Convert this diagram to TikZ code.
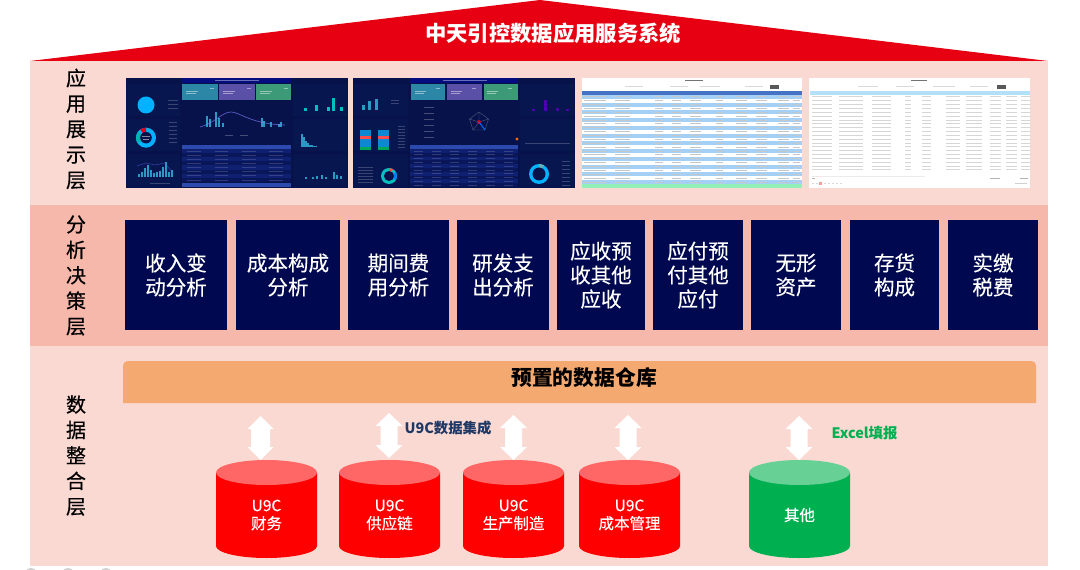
\documentclass[tikz,border=0pt]{standalone}
\usepackage{fontspec}
\setmainfont{Noto Sans CJK SC}
\newfontfamily\medf[FakeBold=0.5]{Noto Sans CJK SC}
\newfontfamily\lightmedf[FakeBold=0.25]{Noto Sans CJK SC}
\usetikzlibrary{shapes.geometric}
\definecolor{bandlight}{HTML}{FBD9D3}
\definecolor{banddark}{HTML}{F6B8AA}
\definecolor{roofred}{HTML}{E60012}
\definecolor{navybox}{HTML}{00084F}
\definecolor{barorange}{HTML}{F4A971}
\definecolor{cylred}{HTML}{FF0000}
\definecolor{cylredtop}{HTML}{FF6666}
\definecolor{cylgreen}{HTML}{00B050}
\definecolor{cylgreentop}{HTML}{66D095}
\definecolor{darkblue}{HTML}{1F3864}
\definecolor{scrbg}{HTML}{07124A}
\definecolor{scrpanel}{HTML}{081650}
\definecolor{scrbar}{HTML}{2A9AC4}
\definecolor{scrrowa}{HTML}{09175A}
\definecolor{scrrowb}{HTML}{0F2070}
\definecolor{scrhead}{HTML}{2C49AE}
\definecolor{cardteal}{HTML}{2C86A6}
\definecolor{cardpurple}{HTML}{5A50A8}
\definecolor{cardgreen}{HTML}{3C9A78}
\definecolor{tblblue}{HTML}{4472C4}
\definecolor{tblrow}{HTML}{A4D0F6}
\definecolor{tblgreen}{HTML}{92F0B8}
\definecolor{tblhead}{HTML}{B4DFF8}
\tikzset{
  layerlabel/.style={text=black, align=center, inner sep=0pt,
    font=\medf\fontsize{15}{19.1}\selectfont},
  analysis/.style={fill=navybox, draw=none, text=white, align=center, inner sep=0pt,
    font=\lightmedf\fontsize{15.4}{18}\selectfont},
  cyltext/.style={text=white, align=center, inner sep=0pt,
    font=\lightmedf\fontsize{11.6}{13.5}\selectfont},
  tagblue/.style={font=\bfseries\fontsize{10.8}{13}\selectfont, text=darkblue, inner sep=0pt},
  taggreen/.style={font=\bfseries\fontsize{10.8}{13}\selectfont, text=cylgreen, inner sep=0pt},
}
\newcommand{\anbox}[4]{\node[analysis, minimum width={(#3-#2)*0.75pt}, minimum height=110*0.75pt]
  (#1) at ({(#2+#3)/2},275) {#4};}
\newcommand{\panel}[4]{\fill[scrpanel] (#1,#2) rectangle (#3,#4);}
% name, centre x, body colour, top colour, text, text y
\newcommand{\dbcyl}[6]{%
  \fill[#3] ({#2-50.5},472.5) -- ({#2-50.5},546) arc (180:0:50.5 and 12) -- ({#2+50.5},472.5) -- cycle;
  \fill[#4] (#2,472.5) ellipse (50.5 and 12.5);
  \node[cyltext] (#1) at (#2,#6) {#5};
}
% name, centre x, y top, y bottom, half head, half shaft
\newcommand{\linkarrow}[6]{%
  \fill[white] (#2,#3) -- ({#2+#5},{#3+13}) -- ({#2+#6},{#3+13}) -- ({#2+#6},{#4-13}) -- ({#2+#5},{#4-13})
    -- (#2,#4) -- ({#2-#5},{#4-13}) -- ({#2-#6},{#4-13}) -- ({#2-#6},{#3+13}) -- ({#2-#5},{#3+13}) -- cycle;
  \coordinate (#1) at (#2,{(#3+#4)/2});
}
\newcommand{\dtable}[7]{% x0,x1,ytop,ybot,rows,cols,(unused)
  \pgfmathsetmacro{\rh}{(#4-#3)/#5}
  \foreach \r in {1,...,#5}{
    \pgfmathtruncatemacro{\ev}{mod(\r,2)}
    \ifnum\ev=0 \def\cc{scrrowa}\else\def\cc{scrrowb}\fi
    \fill[\cc] (#1,{#3+(\r-1)*\rh}) rectangle (#2,{#3+\r*\rh});
    \foreach \c in {1,...,#6}{
      \fill[white,opacity=.16] ({#1+(#2-#1)*(\c-.8)/#6},{#3+(\r-.6)*\rh}) rectangle ++({(#2-#1)*.5/#6},.8);
    }
  }
}
\newcommand{\lighttable}[7]{% x0,x1,ytop,nrows,rowh,striped colour,text colour
  \foreach \r in {1,...,#4}{
    \pgfmathtruncatemacro{\ev}{mod(\r,2)}
    \ifnum\ev=1 \fill[#6] (#1,{#3+(\r-1)*#5}) rectangle (#2,{#3+\r*#5});\fi
    \foreach \c/\w in {0.01/.10,.15/.07,.33/.04,.41/.04,.49/.05,.61/.03,.70/.05,.79/.05,.89/.05,.96/.03}{
      \fill[#7] ({#1+(#2-#1)*\c},{#3+(\r-1)*#5+1.4}) rectangle ({#1+(#2-#1)*(\c+\w)},{#3+(\r-1)*#5+2.3});
    }
  }
}
\newcommand{\bars}[4]{% base, barwidth, colour, list x/h
  \foreach \x/\h in {#4}{ \fill[#3] (\x,#1) rectangle ++(#2,-\h); }
}
\begin{document}
\begin{tikzpicture}[x=0.75pt,y=-0.75pt]
\useasboundingbox (0,0) rectangle (1080,570);
\fill[white] (0,0) rectangle (1080,570);
% bands
\fill[bandlight] (30,61) rectangle (1048,205);
\fill[banddark] (30,205) rectangle (1048,346);
\fill[bandlight] (30,346) rectangle (1048,566);
% roof
\fill[roofred] (30,61) -- (540,0) -- (1048,61) -- cycle;
\node[font=\bfseries\fontsize{16}{18}\selectfont, text=white, inner sep=0pt] (title) at (553,33) {中天引控数据应用服务系统};
% layer labels
\node[layerlabel] (l1) at (76,129) {应\\用\\展\\示\\层};
\node[layerlabel] (l2) at (76,275.5) {分\\析\\决\\策\\层};
\node[layerlabel] (l3) at (76,455.5) {数\\据\\整\\合\\层};

% ---------- screenshot 1
\fill[scrbg] (126,78) rectangle (348,188);
\fill[blue!30!scrbg] (182,78) rectangle (291,83);
\fill[white,opacity=.4] (215,79.6) rectangle (259,81.4);
\panel{127}{84}{180}{116}\panel{127}{119}{180}{151}\panel{127}{154}{180}{187}
\panel{293}{84}{347}{116}\panel{293}{119}{347}{151}\panel{293}{154}{347}{187}
\fill[cardteal] (182,84) rectangle (218,100);
\fill[cardpurple] (218.5,84) rectangle (255,100);
\fill[cardgreen] (255.5,84) rectangle (291,100);
\foreach \x in {186,223,260}{\fill[white,opacity=.45] (\x,91) rectangle ++(12,1); \fill[white,opacity=.45] (\x,93) rectangle ++(10,1);\fill[white,opacity=.45] (\x+24,88) rectangle ++(4,1);}
\fill[blue!30!cyan] (146,105) circle (8.5);
\fill[blue!30!cyan] (146,137.7) circle (10);
\fill[red!60!purple] (146,137.7) -- (146,127.7) arc (-90:-125:10) -- cycle;
\fill[teal!60!cyan] (146,137.7) -- (138,131.7) arc (-143:-215:10) -- cycle;
\fill[scrbg] (146,137.7) circle (5.8);
\fill[white,opacity=.5] (142,136.5) rectangle ++(8,.9);\fill[white,opacity=.5] (143,138.7) rectangle ++(6,.9);
\foreach \y in {122,126,130,134,138,142}{\fill[white,opacity=.2] (169,\y) rectangle ++(8,.8);}
\foreach \y in {100,104,108}{\fill[white,opacity=.2] (168,\y) rectangle ++(10,.8);}
\bars{177}{2}{scrbar}{138/3,141/5,144/9,147/12,150/7,153/4,156/5,159/6,162/10,165/15,168/5,171/7}
\draw[blue!60!white,opacity=.5,line width=.4pt] (137,166) -- (146,163) -- (155,165) -- (165,163) -- (172,172);
\fill[white,opacity=.2] (150,183) rectangle ++(20,.8);
% mid chart
\bars{127}{2.4}{scrbar}{206/11,208.5/8,215/15,217.5/9,222/4,261/9,263/6,270/5,278/3,280/5}
\draw[blue!50!white,opacity=.7,line width=.5pt] (200,127) .. controls (215,123) and (222,112) .. (231,112) .. controls (240,112) and (250,124) .. (285,125);
\fill[white,opacity=.25] (225,135) rectangle ++(8,1);\fill[white,opacity=.25] (240,135) rectangle ++(8,1);
\fill[scrhead] (182,145) rectangle (291,149);
\dtable{182}{291}{149}{182}{8}{4}{}
\fill[scrhead] (182,183) rectangle (291,187);
\bars{111}{3}{teal!50!cyan}{304/3,315/6,327/4,332/13,340/4}
\bars{147}{1.8}{scrbar}{301/13,303/10,305/6,307/4,309/2,311/1.5,313/1,315/1}
\bars{179}{2}{scrbar}{305/2,312/2,316/3,321/4,325/2,333/7,336/4,340/3}

% ---------- screenshot 2
\fill[scrbg] (353,78) rectangle (575,188);
\fill[blue!30!scrbg] (410,78) rectangle (518,83);
\fill[white,opacity=.4] (443,79.6) rectangle (487,81.4);
\panel{354}{84}{408}{116}\panel{354}{119}{408}{151}\panel{354}{154}{408}{187}
\panel{520}{84}{574}{116}\panel{520}{119}{574}{151}\panel{520}{154}{574}{187}
\fill[cardteal] (411,84) rectangle (445,100);
\fill[cardpurple] (447,84) rectangle (482,100);
\fill[cardgreen] (483.5,84) rectangle (518,100);
\foreach \x in {415,451,487}{\fill[white,opacity=.45] (\x,91) rectangle ++(11,1); \fill[white,opacity=.45] (\x,93) rectangle ++(9,1);\fill[white,opacity=.45] (\x+21,88) rectangle ++(4,1);}
\bars{110}{3}{scrbar}{362/5,368/9,375/11}
\fill[white,opacity=.2] (391,100) rectangle ++(8,.8);\fill[white,opacity=.2] (391,103) rectangle ++(8,.8);
\foreach \x in {360,377.5}{
  \fill[cyan!70!blue] (\x,130) rectangle ++(11,20);
  \fill[red!70!white] (\x,136.5) rectangle ++(11,3);
  \fill[teal!70!green] (\x,147.5) rectangle ++(11,2.5);
}
\foreach \y in {126,129,132,135,138,141,144,147}{\fill[white,opacity=.2] (398,\y) rectangle ++(7,.8);}
\fill[teal!50!cyan] (389,176) circle (8);
\fill[red!70!white] (389,176) -- (389,168) arc (-90:-60:8) -- cycle;
\fill[blue!50!cyan] (389,176) -- (396,172) arc (-30:30:8) -- cycle;
\fill[scrbg] (389,176) circle (5);
\foreach \y in {167,170,173,176,179,182}{\fill[white,opacity=.2] (358,\y) rectangle ++(15,.8);}
% radar
\draw[white,opacity=.3,line width=.3pt] (479,112) -- (488.5,119) -- (485,130) -- (473,130) -- (469.5,119) -- cycle;
\draw[white,opacity=.3,line width=.3pt] (479,122) -- (479,112) (479,122) -- (488.5,119) (479,122) -- (485,130) (479,122) -- (473,130) (479,122) -- (469.5,119);
\fill[red!60!purple,opacity=.8] (479,122) circle (2);
\draw[blue!60!cyan,line width=.8pt] (479,122) -- (485,130);
\foreach \y in {107,113,119,125,131,137}{\fill[white,opacity=.25] (424,\y) rectangle ++(10,.8);}
\fill[orange!80!red] (517,139) circle (1.7);
\fill[scrhead] (410,145) rectangle (518,149);
\dtable{410}{518}{149}{187}{10}{6}{}
\bars{111}{3}{blue!60!purple}{532/2,544/11,556/3,566/2}
\draw[white,opacity=.2,line width=.3pt] (525,143) -- (570,143);
\fill[blue!30!cyan] (539,174) circle (10);
\fill[teal!60!white] (539,174) -- (539,164) arc (-90:-60:10) -- cycle;
\fill[scrbg] (539,174) circle (6.5);
\foreach \y in {161,165,169,173,177,181,185}{\fill[white,opacity=.2] (562,\y) rectangle ++(8,.8);}

% ---------- screenshot 3
\fill[white] (582,78) rectangle (802,188);
\fill[black!55] (685,80) rectangle (703,81.5);
\foreach \x/\w in {625/18,670/18,700/20,745/18}{\fill[black!15] (\x,86) rectangle ++(\w,.8);}
\fill[black!65] (770,85) rectangle (779,89);
\fill[tblblue] (582,91) rectangle (802,95);
\lighttable{582}{802}{95}{23}{3.87}{tblrow}{black!22}
\fill[tblgreen] (582,184) rectangle (802,188);

% ---------- screenshot 4
\fill[white] (809,78) rectangle (1030,188);
\fill[black!55] (911,79.6) rectangle (927,81.2);
\foreach \x/\w in {858/20,896/18,933/22,970/18}{\fill[black!15] (\x,86) rectangle ++(\w,.8);}
\fill[black!65] (997,85) rectangle (1006,89);
\fill[tblhead] (810,91) rectangle (1030,95);
\foreach \r in {0,...,19}{
  \foreach \c/\w in {.01/.09,.13/.11,.28/.09,.43/.03,.51/.04,.62/.06,.71/.07,.82/.05,.89/.05,.96/.04}{
    \fill[black!16] ({810+220*\c},{96.5+\r*3.84}) rectangle ({810+220*(\c+\w)},{97.3+\r*3.84});
  }
}
\fill[black!8] (812,176) rectangle (925,177);
\fill[black!30] (812,178) rectangle (815,179);\fill[black!30] (990,178) rectangle (1000,179);\fill[black!30] (1020,178) rectangle (1028,179);
\foreach \x in {812,816,824,828,832,836,840}{\fill[black!15] (\x,183) rectangle ++(1.5,1.5);}
\fill[red!40] (819,182) rectangle ++(3,3);
\fill[black!18] (1015,183) rectangle ++(12,1);

% ---------- analysis
\anbox{a1}{125}{227}{收入变\\动分析}
\anbox{a2}{236}{340}{成本构成\\分析}
\anbox{a3}{348}{449}{期间费\\用分析}
\anbox{a4}{457}{549}{研发支\\出分析}
\anbox{a5}{557}{645}{应收预\\收其他\\应收}
\anbox{a6}{653}{743}{应付预\\付其他\\应付}
\anbox{a7}{751}{841}{无形\\资产}
\anbox{a8}{850}{939}{存货\\构成}
\anbox{a9}{948}{1038}{实缴\\税费}

% ---------- data warehouse
\fill[barorange, rounded corners=3.5pt] (123,403) [sharp corners] -- (123,370) [rounded corners=3.5pt] -- (123,361) -- (1036,361) -- (1036,370) [sharp corners] -- (1036,403) -- cycle;
\node[font=\bfseries\fontsize{15.6}{18}\selectfont, text=black, inner sep=0pt] (dw) at (584,378) {预置的数据仓库};

% ---------- cylinders
\dbcyl{c1}{266.5}{cylred}{cylredtop}{U9C\\财务}{515}
\dbcyl{c2}{389.5}{cylred}{cylredtop}{U9C\\供应链}{515}
\dbcyl{c3}{513.5}{cylred}{cylredtop}{U9C\\生产制造}{515}
\dbcyl{c4}{629.5}{cylred}{cylredtop}{U9C\\成本管理}{515}
\dbcyl{c5}{799.5}{cylgreen}{cylgreentop}{其他}{515}

% ---------- link arrows
\linkarrow{k1}{260.5}{416}{460}{13}{9.5}
\linkarrow{k2}{389}{413}{458}{13.5}{8.5}
\linkarrow{k3}{513.5}{415}{460}{13.5}{8.5}
\linkarrow{k4}{628}{415}{460}{13.5}{8.5}
\linkarrow{k5}{799}{416}{460}{13.5}{8.5}
\node[tagblue] (t1) at (448,428.5) {U9C数据集成};
\node[taggreen] (t2) at (864.5,433) {Excel填报};

% cut-off fragments at the lower edge
\begin{scope}
\clip (0,567) rectangle (1080,570);
\foreach \x in {31,68,106}{\fill[black!18] (\x,571) ellipse (5 and 3);}
\end{scope}
\end{tikzpicture}
\end{document}
